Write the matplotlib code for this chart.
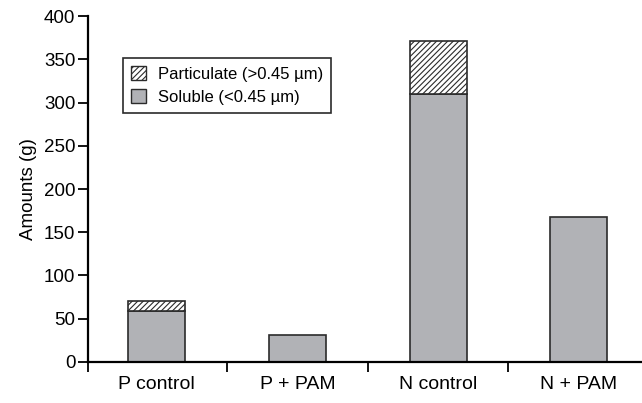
import numpy as np
import matplotlib.pyplot as plt
from matplotlib.patches import Patch

plt.rcParams['font.family'] = ['Liberation Sans', 'DejaVu Sans']
plt.rcParams['hatch.linewidth'] = 0.8

# data
groups = ['P control', 'P + PAM', 'N control', 'N + PAM']
soluble = [59, 31, 310, 168]
particulate = [11, 0, 61, 0]

gray = '#b1b2b6'
edge = '#2b2b2b'

fig = plt.figure(figsize=(6.42, 4.03), dpi=100)
ax = fig.add_axes([0.137, 0.102, 0.863, 0.858])

x = np.arange(len(groups))
w = 0.405
ax.bar(x, soluble, w, color=gray, edgecolor=edge, linewidth=1.2, zorder=2)
tops = [p > 0 for p in particulate]
ax.bar(x[tops], np.array(particulate)[tops], w, bottom=np.array(soluble)[tops],
       color='white', edgecolor=edge, hatch='//////', linewidth=1.2, zorder=2)

ax.set_xlim(-0.49, 3.45)
ax.set_ylim(0, 400)
ax.set_yticks(range(0, 401, 50))
ax.set_xticks(x)
ax.set_xticklabels(groups, fontsize=14)
ax.tick_params(axis='x', which='major', length=0, pad=10)
ax.set_xticks([-0.49, 0.5, 1.5, 2.5], minor=True)
ax.tick_params(axis='x', which='minor', length=7, width=1.3, direction='out')
ax.tick_params(axis='y', length=7, width=1.3, labelsize=13.5, pad=2)
ax.set_ylabel('Amounts (g)', fontsize=13.5, labelpad=5)

for s in ['top', 'right']:
    ax.spines[s].set_visible(False)
for s in ['left', 'bottom']:
    ax.spines[s].set_linewidth(1.6)

handles = [Patch(facecolor='white', edgecolor=edge, hatch='//////', label='Particulate (>0.45 µm)'),
           Patch(facecolor=gray, edgecolor=edge, label='Soluble (<0.45 µm)')]
leg = ax.legend(handles=handles, loc='upper left', bbox_to_anchor=(0.063, 0.879),
                fontsize=12, handlelength=0.9, handleheight=0.9, handletextpad=0.7,
                labelspacing=0.45, fancybox=False, edgecolor=edge, framealpha=1,
                borderpad=0.5, borderaxespad=0)
leg.get_frame().set_linewidth(1.2)

fig.savefig('out.png', dpi=100)
